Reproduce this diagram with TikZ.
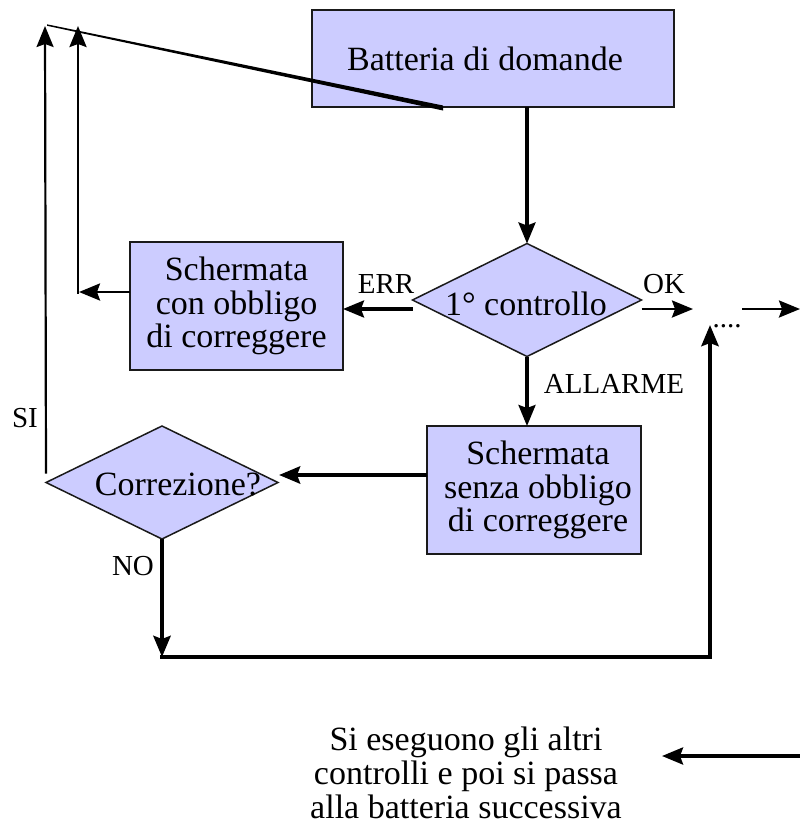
\documentclass[tikz,border=0pt]{standalone}
\usepackage{fontspec}
\setmainfont{Liberation Serif}
\newfontfamily\tnr{Liberation Serif}
\usetikzlibrary{shapes.geometric,arrows.meta}
\definecolor{boxfill}{HTML}{CCCCFF}
\definecolor{boxline}{HTML}{1A1A1A}
\begin{document}
\begin{tikzpicture}[x=1pt,y=-1pt,
  box/.style={draw=boxline, line width=1.8pt, fill=boxfill, inner sep=0pt, outer sep=0pt, align=center, font=\tnr\fontsize{34}{33.5}\selectfont},
  dia/.style={diamond, draw=boxline, line width=1.5pt, fill=boxfill, inner sep=0pt, outer sep=0pt},
  maintext/.style={font=\tnr\fontsize{34}{34}\selectfont, inner sep=0pt},
  lab/.style={font=\tnr\fontsize{29}{29}\selectfont, inner sep=0pt, anchor=base},
  tip/.style={-{Stealth[length=21pt,width=17pt,inset=3pt]}},
  arrA/.style={tip, line width=3.2pt},
  arrB/.style={tip, line width=4.3pt},
  arrC/.style={tip, line width=2.2pt}]
\useasboundingbox (0,0) rectangle (800,827);
% boxes
\node[box, minimum width=362, minimum height=97] (b1) at (493,58.5) {Batteria di domande\hspace*{16pt}};
\node[box, minimum width=213, minimum height=128] (b2) at (236.5,306) {Schermata\\con obbligo\\di correggere};
\node[box, minimum width=214, minimum height=128] (b3) at (534,490) {\hspace*{8pt}Schermata\\\hspace*{8pt}senza obbligo\\\hspace*{8pt}di correggere};
% diamonds
\node[dia, minimum width=229, minimum height=113] (d1) at (527,300) {};
\node[maintext, anchor=base] (t1) at (526,315) {1° controllo};
\node[dia, minimum width=232, minimum height=113] (d2) at (162,482.5) {};
\node[maintext, anchor=base] (t2) at (178,495) {Correzione?};
% coordinates
\coordinate (okend) at (693,309);
\coordinate (rs) at (742,309);
\coordinate (re) at (800,309);
\coordinate (cno) at (162,657);
\coordinate (cnr) at (710,657);
\coordinate (upend) at (710,325);
\coordinate (cz) at (279,475);
\coordinate (siend) at (45,26);
\coordinate (c78) at (79,292);
\coordinate (c78b) at (78,293.5);
\coordinate (c78t) at (78,26);
\coordinate (ba1) at (800,756);
\coordinate (ba2) at (662,756);
% diagonal stray line (tapered)
\fill (47,24.3) -- (443,105.5) -- (443,110.5) -- (47,25.8) -- cycle;
% connectors
\draw[arrA] (b1.south -| d1.north) -- (d1.north);
\draw[arrA] ([yshift=-9pt]d1.west) -- ([yshift=-9pt]d1.west -| b2.east);
\draw[arrC, line width=2.6pt] ([yshift=-9pt]d1.east) -- (okend);
\draw[arrC, line width=2.6pt] (rs) -- (re);
\draw[arrA] (d1.south) -- (b3.north -| d1.south);
\draw[arrB] ([yshift=15pt]b3.west) -- (cz);
\draw[arrC] ([yshift=9pt]d2.west) -- (siend);
\draw[arrA, line width=2.6pt] ([yshift=14pt]b2.west) -- (c78);
\draw[arrC, line width=2.6pt] (c78b) -- (c78t);
\draw[arrB] (d2.south) -- (cno);
\draw[arrB, line cap=rect] (cno) -- (cnr) -- (upend);
\draw[arrA, line width=3.6pt] (ba1) -- (ba2);
% labels
\node[lab] (lerr) at (386,293) {ERR};
\node[lab] (lok) at (664,293) {OK};
\node[lab] (lall) at (614,393) {ALLARME};
\node[lab] (lsi) at (25,427) {SI};
\node[lab] (lno) at (133,575) {NO};
\node[lab] (dots) at (727,327) {....};
\node[maintext, align=center, anchor=north] (t3) at (466,727) {Si eseguono gli altri\\controlli e poi si passa\\alla batteria successiva};
\end{tikzpicture}
\end{document}
